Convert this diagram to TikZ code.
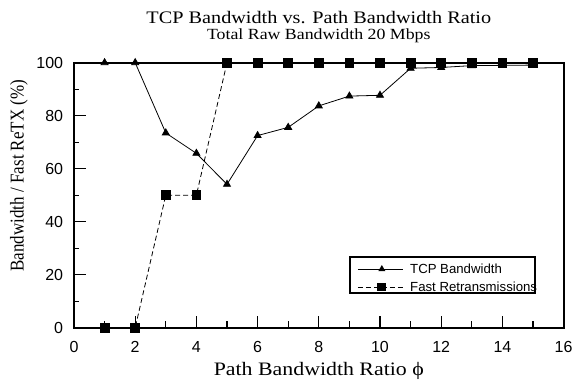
\documentclass[tikz,border=0pt]{standalone}
\usepackage{fontspec}
\setmainfont{Liberation Serif}
\setsansfont{Liberation Sans}
\usetikzlibrary{plotmarks}

\newcommand{\widetext}[1]{\scalebox{1.15}[1]{#1}}

\tikzset{
    ticklabel/.style={font=\sffamily\fontsize{16}{16}\selectfont, inner sep=0pt},
    keytext/.style={font=\sffamily\fontsize{13.2}{13.2}\selectfont, anchor=west, inner sep=0pt},
    tcpline/.style={line width=0.8pt, mark=triangle*, mark size=4pt},
    retxline/.style={line width=0.8pt, dash pattern=on 5pt off 3pt, mark=square*, mark size=4.4pt, mark options={solid}},
    tcpkey/.style={line width=0.8pt},
    retxkey/.style={line width=0.8pt, dash pattern=on 5pt off 3pt},
}

\begin{document}
\begin{tikzpicture}[line cap=butt, line join=miter, x=30.6pt, y=2.65pt]

                \useasboundingbox (-2.418,-19.36) rectangle (16.34,123.66);

                % ticks
                \foreach \t in {1,...,15} {
                    \draw[line width=1.1pt] (\t,0) -- (\t,2.7);
                }
                \foreach \t in {2,4,...,14} {
                    \draw[line width=1.1pt] (\t,0) -- (\t,4.3);
                }
                \foreach \v in {10,30,...,90} {
                    \draw[line width=1.1pt] (0,\v) -- (0.17,\v);
                }
                \foreach \v in {20,40,...,80} {
                    \draw[line width=1.1pt] (0,\v) -- (0.38,\v);
                }

                % tick labels
                \foreach \t in {0,2,...,16} {
                    \node[ticklabel] (xl\t) at (\t,-7.3) {\t};
                }
                \foreach \v in {0,20,...,100} {
                    \node[ticklabel, anchor=east] (yl\v) at (-0.35,\v) {\v};
                }

                % data
                \draw[tcpline] plot coordinates {(1,100) (2,100) (3,73.5) (4,65.8) (5,54.1) (6,72.5) (7,75.6) (8,83.7) (9,87.4) (10,87.7) (11,97.9) (12,98.2) (13,98.9) (14,99) (15,99.1)};
                \draw[retxline] plot coordinates {(1,0) (2,0) (3,50) (4,50) (5,100) (6,100) (7,100) (8,100) (9,100) (10,100) (11,100) (12,100) (13,100) (14,100) (15,100)};

                % frame
                \draw[line width=1.8pt] (0,0) rectangle (16,100);

                % key
                \draw[line width=1.4pt, fill=white] (9.02,13.09) rectangle (15.07,26.68);
                \coordinate (k1a) at (9.28,22.15);
                \coordinate (k1m) at (10.06,22.15);
                \coordinate (k1b) at (10.75,22.15);
                \coordinate (k2a) at (9.28,15.36);
                \coordinate (k2m) at (10.06,15.36);
                \coordinate (k2b) at (10.75,15.36);
                \draw[tcpkey] (k1a) -- (k1b);
                \fill (k1m) +(90:4pt) -- +(210:4pt) -- +(330:4pt) -- cycle;
                \node[keytext] (k1) at (10.98,22.15) {TCP Bandwidth};
                \draw[retxkey] (k2a) -- (k2b);
                \fill (k2m) +(-4.4pt,-4.4pt) rectangle +(4.4pt,4.4pt);
                \node[keytext] (k2) at (10.98,15.36) {Fast Retransmissions};

                % titles
                \node[anchor=base, font=\fontsize{17.6}{17.6}\selectfont, inner sep=0pt] (title) at (8,114.9) {\widetext{TCP Bandwidth vs. Path Bandwidth Ratio}};
                \node[anchor=base, font=\fontsize{15.5}{15.5}\selectfont, inner sep=0pt] (subtitle) at (8,108.6) {\widetext{Total Raw Bandwidth 20 Mbps}};
                \node[anchor=base, font=\fontsize{19}{19}\selectfont, inner sep=0pt] (xlabel) at (8,-18.1) {\widetext{Path Bandwidth Ratio ϕ}};
                \node[rotate=90, font=\fontsize{17}{17}\selectfont, inner sep=0pt] (ylabel) at (-1.80,57.4) {\scalebox{1}[1.15]{Bandwidth / Fast ReTX (\%)}};

\end{tikzpicture}
\end{document}
